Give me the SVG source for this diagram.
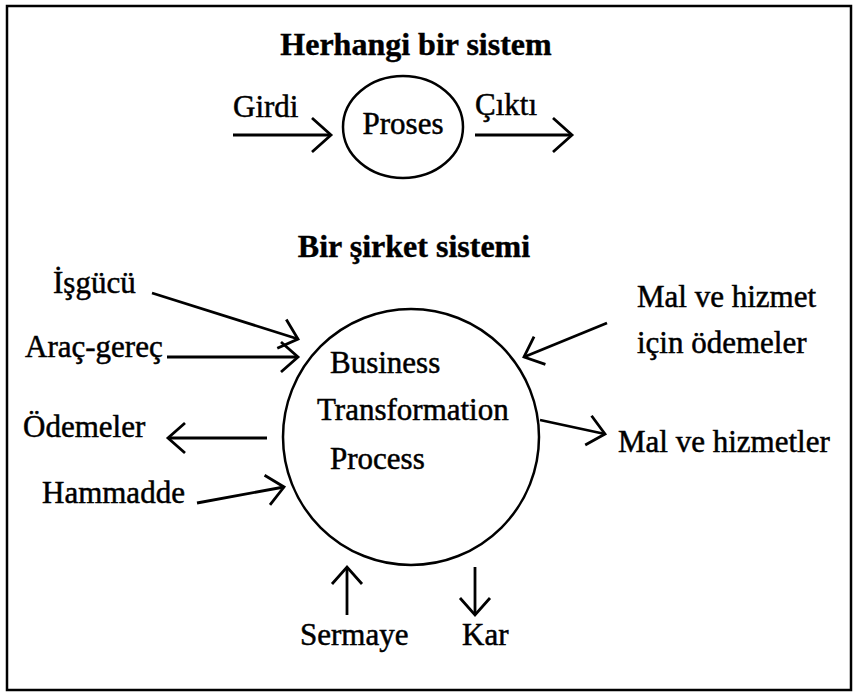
<svg xmlns="http://www.w3.org/2000/svg" width="856" height="697" viewBox="0 0 856 697">
  <style>
    .frame { fill: #fff; stroke: #000; stroke-width: 2.5; }
    .node-shape { fill: none; stroke: #000; stroke-width: 2.5; }
    .title { font-family: "Liberation Serif", "Times New Roman", serif; font-size: 32px; font-weight: bold; fill: #000; stroke: #000; stroke-width: 0.4; }
    .label { font-family: "Liberation Serif", "Times New Roman", serif; font-size: 31px; fill: #000; stroke: #000; stroke-width: 0.5; }
    .edge { fill: none; stroke: #000; stroke-width: 2.8; marker-end: url(#chev); }
    .edge-lg { fill: none; stroke: #000; stroke-width: 2.8; marker-end: url(#chev-lg); }
  </style>
  <defs>
    <marker id="chev" markerUnits="userSpaceOnUse" viewBox="-22 -20 26 40" refX="0" refY="0" markerWidth="26" markerHeight="40" orient="auto" overflow="visible">
      <path d="M-17,-15 L0,0 L-17,15" fill="none" stroke="#000" stroke-width="2.8" stroke-linejoin="miter"/>
    </marker>
    <marker id="chev-lg" markerUnits="userSpaceOnUse" viewBox="-24 -22 28 44" refX="0" refY="0" markerWidth="28" markerHeight="44" orient="auto" overflow="visible">
      <path d="M-19,-17 L0,0 L-19,17" fill="none" stroke="#000" stroke-width="2.8" stroke-linejoin="miter"/>
    </marker>
  </defs>

  <!-- outer frame -->
  <rect class="frame" x="7" y="6" width="844" height="684"/>

  <!-- generic system -->
  <text class="title" x="416" y="55" text-anchor="middle">Herhangi bir sistem</text>
  <g id="proses">
    <ellipse class="node-shape" cx="403" cy="127" rx="60" ry="51"/>
    <text class="label" x="403" y="134" text-anchor="middle">Proses</text>
  </g>
  <g id="girdi">
    <text class="label" x="233" y="117">Girdi</text>
  </g>
  <g id="cikti">
    <text class="label" x="475" y="115">Çıktı</text>
  </g>

  <!-- company system -->
  <text class="title" x="414" y="257" text-anchor="middle">Bir şirket sistemi</text>
  <g id="business-process">
    <circle class="node-shape" cx="411" cy="437" r="128"/>
    <text class="label" x="330" y="373">Business</text>
    <text class="label" x="317" y="420">Transformation</text>
    <text class="label" x="330" y="469">Process</text>
  </g>
  <g id="isgucu"><text class="label" x="53" y="293">İşgücü</text></g>
  <g id="arac-gerec"><text class="label" x="25" y="357">Araç-gereç</text></g>
  <g id="odemeler"><text class="label" x="23" y="437">Ödemeler</text></g>
  <g id="hammadde"><text class="label" x="42" y="503">Hammadde</text></g>
  <g id="mal-hizmet-odemeler">
    <text class="label" x="637" y="307">Mal ve hizmet</text>
    <text class="label" x="637" y="353">için ödemeler</text>
  </g>
  <g id="mal-hizmetler"><text class="label" x="618" y="452">Mal ve hizmetler</text></g>
  <g id="sermaye"><text class="label" x="300" y="645">Sermaye</text></g>
  <g id="kar"><text class="label" x="462" y="645">Kar</text></g>

  <!-- connectors -->
  <g id="connectors">
    <path class="edge-lg" d="M233,135 L331,135"/>
    <path class="edge-lg" d="M475,135 L572,135"/>
    <path class="edge" d="M152,293 L298,339"/>
    <path class="edge" d="M167,357 L298,357"/>
    <path class="edge" d="M267,438 L168,438"/>
    <path class="edge" d="M197,503 L284,487"/>
    <path class="edge" d="M607,323 L524,357"/>
    <path class="edge" d="M540,420 L605,434"/>
    <path class="edge" d="M347,615 L347,567"/>
    <path class="edge" d="M475,567 L475,615"/>
  </g>
</svg>
